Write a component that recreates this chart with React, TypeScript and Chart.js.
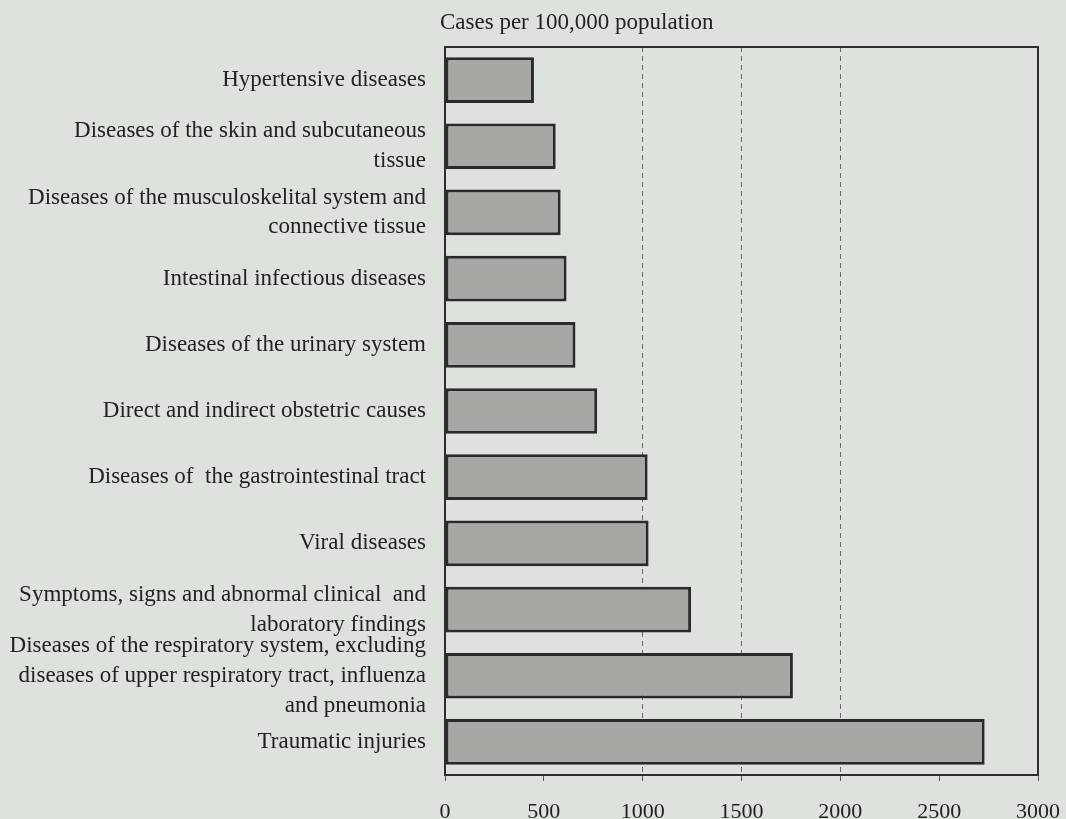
import React, { useEffect, useRef } from "react";
import { Chart, registerables } from "chart.js";

Chart.register(...registerables);

const categories: (string | string[])[] = [
  "Hypertensive diseases",
  ["Diseases of the skin and subcutaneous", "tissue"],
  ["Diseases of the musculoskelital system and", "connective tissue"],
  "Intestinal infectious diseases",
  "Diseases of the urinary system",
  "Direct and indirect obstetric causes",
  "Diseases of  the gastrointestinal tract",
  "Viral diseases",
  ["Symptoms, signs and abnormal clinical  and", "laboratory findings"],
  [
    "Diseases of the respiratory system, excluding",
    "diseases of upper respiratory tract, influenza",
    "and pneumonia",
  ],
  "Traumatic injuries",
];

const casesPer100k = [450, 560, 585, 615, 660, 770, 1025, 1030, 1245, 1760, 2730];

const axisTitle = "Cases per 100,000 population";
const xMin = 0;
const xMax = 3000;
const xStep = 500;
const dashedGridValues = [1000, 1500, 2000];

const FONT = "'Liberation Serif', 'Times New Roman', serif";
const TEXT = "#222222";
const BG = "#dde2dc";

export default function App() {
  const ref = useRef<HTMLCanvasElement>(null);

  useEffect(() => {
    if (!ref.current) return;
    const decor = {
      id: "decor",
      beforeDraw(chart: any) {
        const { ctx, width, height } = chart;
        ctx.save();
        ctx.fillStyle = BG;
        ctx.fillRect(0, 0, width, height);
        ctx.restore();
      },
      afterDatasetsDraw(chart: any) {
        const { ctx, chartArea } = chart;
        ctx.save();
        ctx.strokeStyle = "#2e2e2e";
        ctx.lineWidth = 2;
        ctx.strokeRect(
          chartArea.left,
          chartArea.top,
          chartArea.right - chartArea.left,
          chartArea.bottom - chartArea.top
        );
        ctx.restore();
      },
      afterDraw(chart: any) {
        const { ctx, chartArea } = chart;
        ctx.save();
        ctx.fillStyle = TEXT;
        ctx.font = `23px ${FONT}`;
        ctx.textAlign = "left";
        ctx.textBaseline = "middle";
        ctx.fillText(axisTitle, chartArea.left - 5, 23);
        ctx.restore();
      },
    };

    const chart = new Chart(ref.current, {
      type: "bar",
      data: {
        labels: categories,
        datasets: [
          {
            data: casesPer100k,
            backgroundColor: "#a6a8a4",
            borderColor: "#2a2a2a",
            borderWidth: 3,
            borderSkipped: false,
            barPercentage: 0.69,
            categoryPercentage: 1,
          },
        ],
      },
      options: {
        indexAxis: "y",
        animation: false,
        responsive: true,
        maintainAspectRatio: false,
        layout: { padding: { left: 0, right: 28, top: 47, bottom: 0 } },
        plugins: {
          legend: { display: false },
          tooltip: { enabled: false },
          title: { display: false },
        },
        scales: {
          x: {
            type: "linear",
            min: xMin,
            max: xMax,
            ticks: {
              stepSize: xStep,
              color: TEXT,
              font: { family: FONT, size: 22 },
              padding: 18,
              callback: (v: any) => String(v),
            },
            grid: {
              color: (c: any) =>
                c.tick && dashedGridValues.includes(c.tick.value)
                  ? "#6a6a6a"
                  : "rgba(0,0,0,0)",
              tickColor: "#555555",
              tickLength: 6,
              lineWidth: 1,
            },
            border: { display: false, dash: [5, 4] },
            afterFit: (s: any) => {
              s.height = 44;
              s.paddingRight = 0;
              s.paddingLeft = 0;
            },
          },
          y: {
            ticks: {
              color: TEXT,
              font: { family: FONT, size: 23, lineHeight: 1.3 },
              padding: 19,
              autoSkip: false,
            },
            grid: { display: false, drawTicks: false },
            border: { display: false },
            afterFit: (s: any) => {
              s.width = 445;
            },
          },
        },
      },
      plugins: [decor],
    });
    return () => chart.destroy();
  }, []);

  return (
    <div style={{ position: "absolute", left: 0, top: 0, width: 1066, height: 819, background: BG }}>
      <canvas ref={ref} />
    </div>
  );
}
